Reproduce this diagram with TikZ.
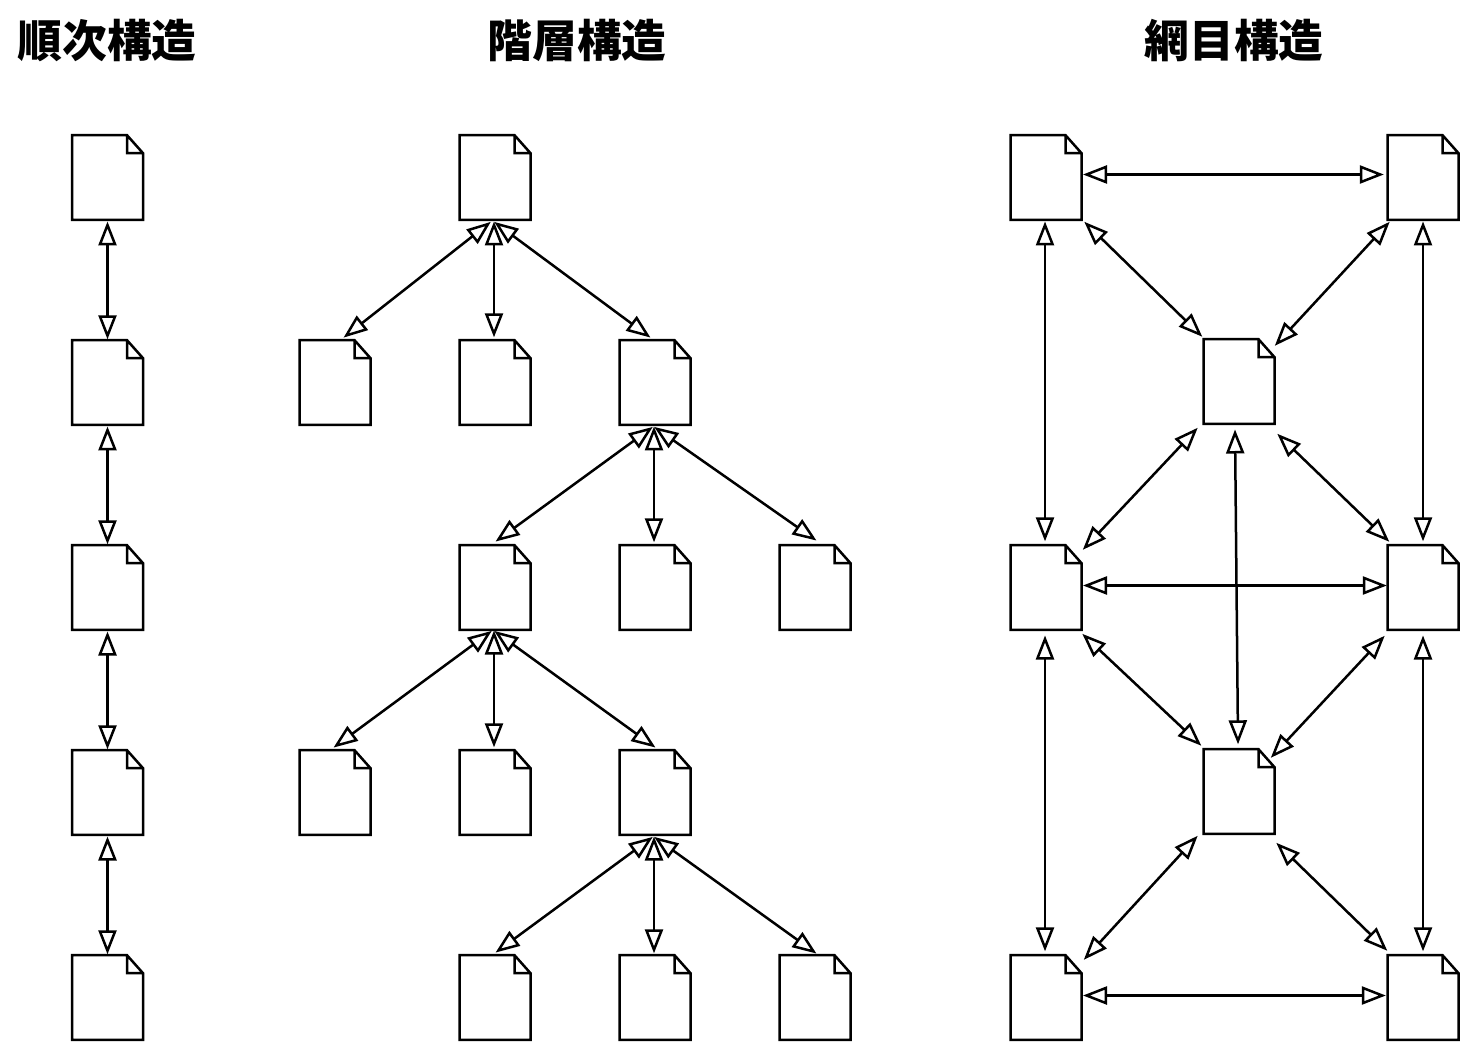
\documentclass[tikz,border=0pt]{standalone}
\usepackage{fontspec}
\usetikzlibrary{arrows.meta}
\newfontfamily\cjk{Noto Sans CJK JP}
\tikzset{
  doc/.style={minimum width=35.5pt,minimum height=42.3pt,inner sep=0pt,outer sep=0pt,yshift=-0.25pt,
    append after command={\pgfextra{\draw[line width=1.25pt,line join=miter]
      (\tikzlastnode.south west) -- (\tikzlastnode.north west)
      -- ([xshift=-8pt]\tikzlastnode.north east) -- ([yshift=-9pt]\tikzlastnode.north east)
      -- (\tikzlastnode.south east) -- cycle
      ([xshift=-8pt]\tikzlastnode.north east) -- ([xshift=-8pt,yshift=-9pt]\tikzlastnode.north east)
      -- ([yshift=-9pt]\tikzlastnode.north east);}}},
  link/.style={{Triangle[open,length=12pt,width=9pt]}-{Triangle[open,length=12pt,width=9pt]},line width=1.25pt,
    shorten >=-0.9pt,shorten <=-0.5pt},
  heading/.style={font=\cjk\bfseries\fontsize{22.4pt}{24pt}\selectfont,inner sep=0pt}
}
\begin{document}
\begin{tikzpicture}[x=0.5pt,y=-0.5pt]
\useasboundingbox (0,0) rectangle (1475,1052);
\node[heading] (title1) at (107,41) {順次構造};
\node[heading] (title2) at (577,41) {階層構造};
\node[heading] (title3) at (1234,41) {網目構造};
% sequential
\foreach \name/\y in {s1/177,s2/382,s3/587,s4/792,s5/997}
  \node[doc] (\name) at (107.5,\y) {};
% hierarchical
\foreach \name/\x/\y in {t1/495/177,t2/335/382,t3/495/382,t4/655/382,t5/495/587,t6/655/587,t7/815/587,
    t8/335/792,t9/495/792,t10/655/792,t11/495/997,t12/655/997,t13/815/997}
  \node[doc] (\name) at (\x,\y) {};
% network
\foreach \name/\x/\y in {n1/1046/177,n2/1423/177,n3/1239/381,n4/1046/587,n5/1423/587,n6/1239/791,n7/1046/997,n8/1423/997}
  \node[doc] (\name) at (\x,\y) {};
% connectors
\foreach \a/\ax/\ay/\b/\bx/\by in {
    s1/0/45/s2/0/-45, s2/0/45/s3/0/-45, s3/0/45/s4/0/-45, s4/0/45/s5/0/-45,
    t1/-5/45/t2/10/-46, t1/-1/45/t3/-1/-47, t1/0/45/t4/-6/-46,
    t4/-3/45/t5/2/-47, t4/-1/45/t6/-1/-47, t4/0/45/t7/0/-48,
    t5/-4/44/t8/0/-46, t5/-1/44/t9/-1/-47, t5/0/44/t10/-1/-46,
    t10/-3/45/t11/2/-46, t10/-1/45/t12/-1/-46, t10/0/45/t13/0/-45,
    n1/38/-3/n2/-41/-3, n1/-1/45/n4/-1/-48, n2/0/45/n5/0/-48,
    n1/39/45/n3/-38/-46, n2/-34/45/n3/37/-37, n3/-42/47/n4/38/-39,
    n3/39/53/n5/-35/-47, n3/-4/49/n6/-1/-49, n4/38/-2/n5/-38/-2,
    n4/-1/49/n7/-1/-48, n5/0/49/n8/0/-48, n4/37/47/n6/-39/-47,
    n5/-39/49/n6/33/-35, n6/-42/45/n7/39/-39, n6/38/52/n8/-37/-48,
    n7/38/-2/n8/-39/-2}
  \draw[link] ([shift={(\ax,\ay)}]\a.center) -- ([shift={(\bx,\by)}]\b.center);
\end{tikzpicture}
\end{document}
